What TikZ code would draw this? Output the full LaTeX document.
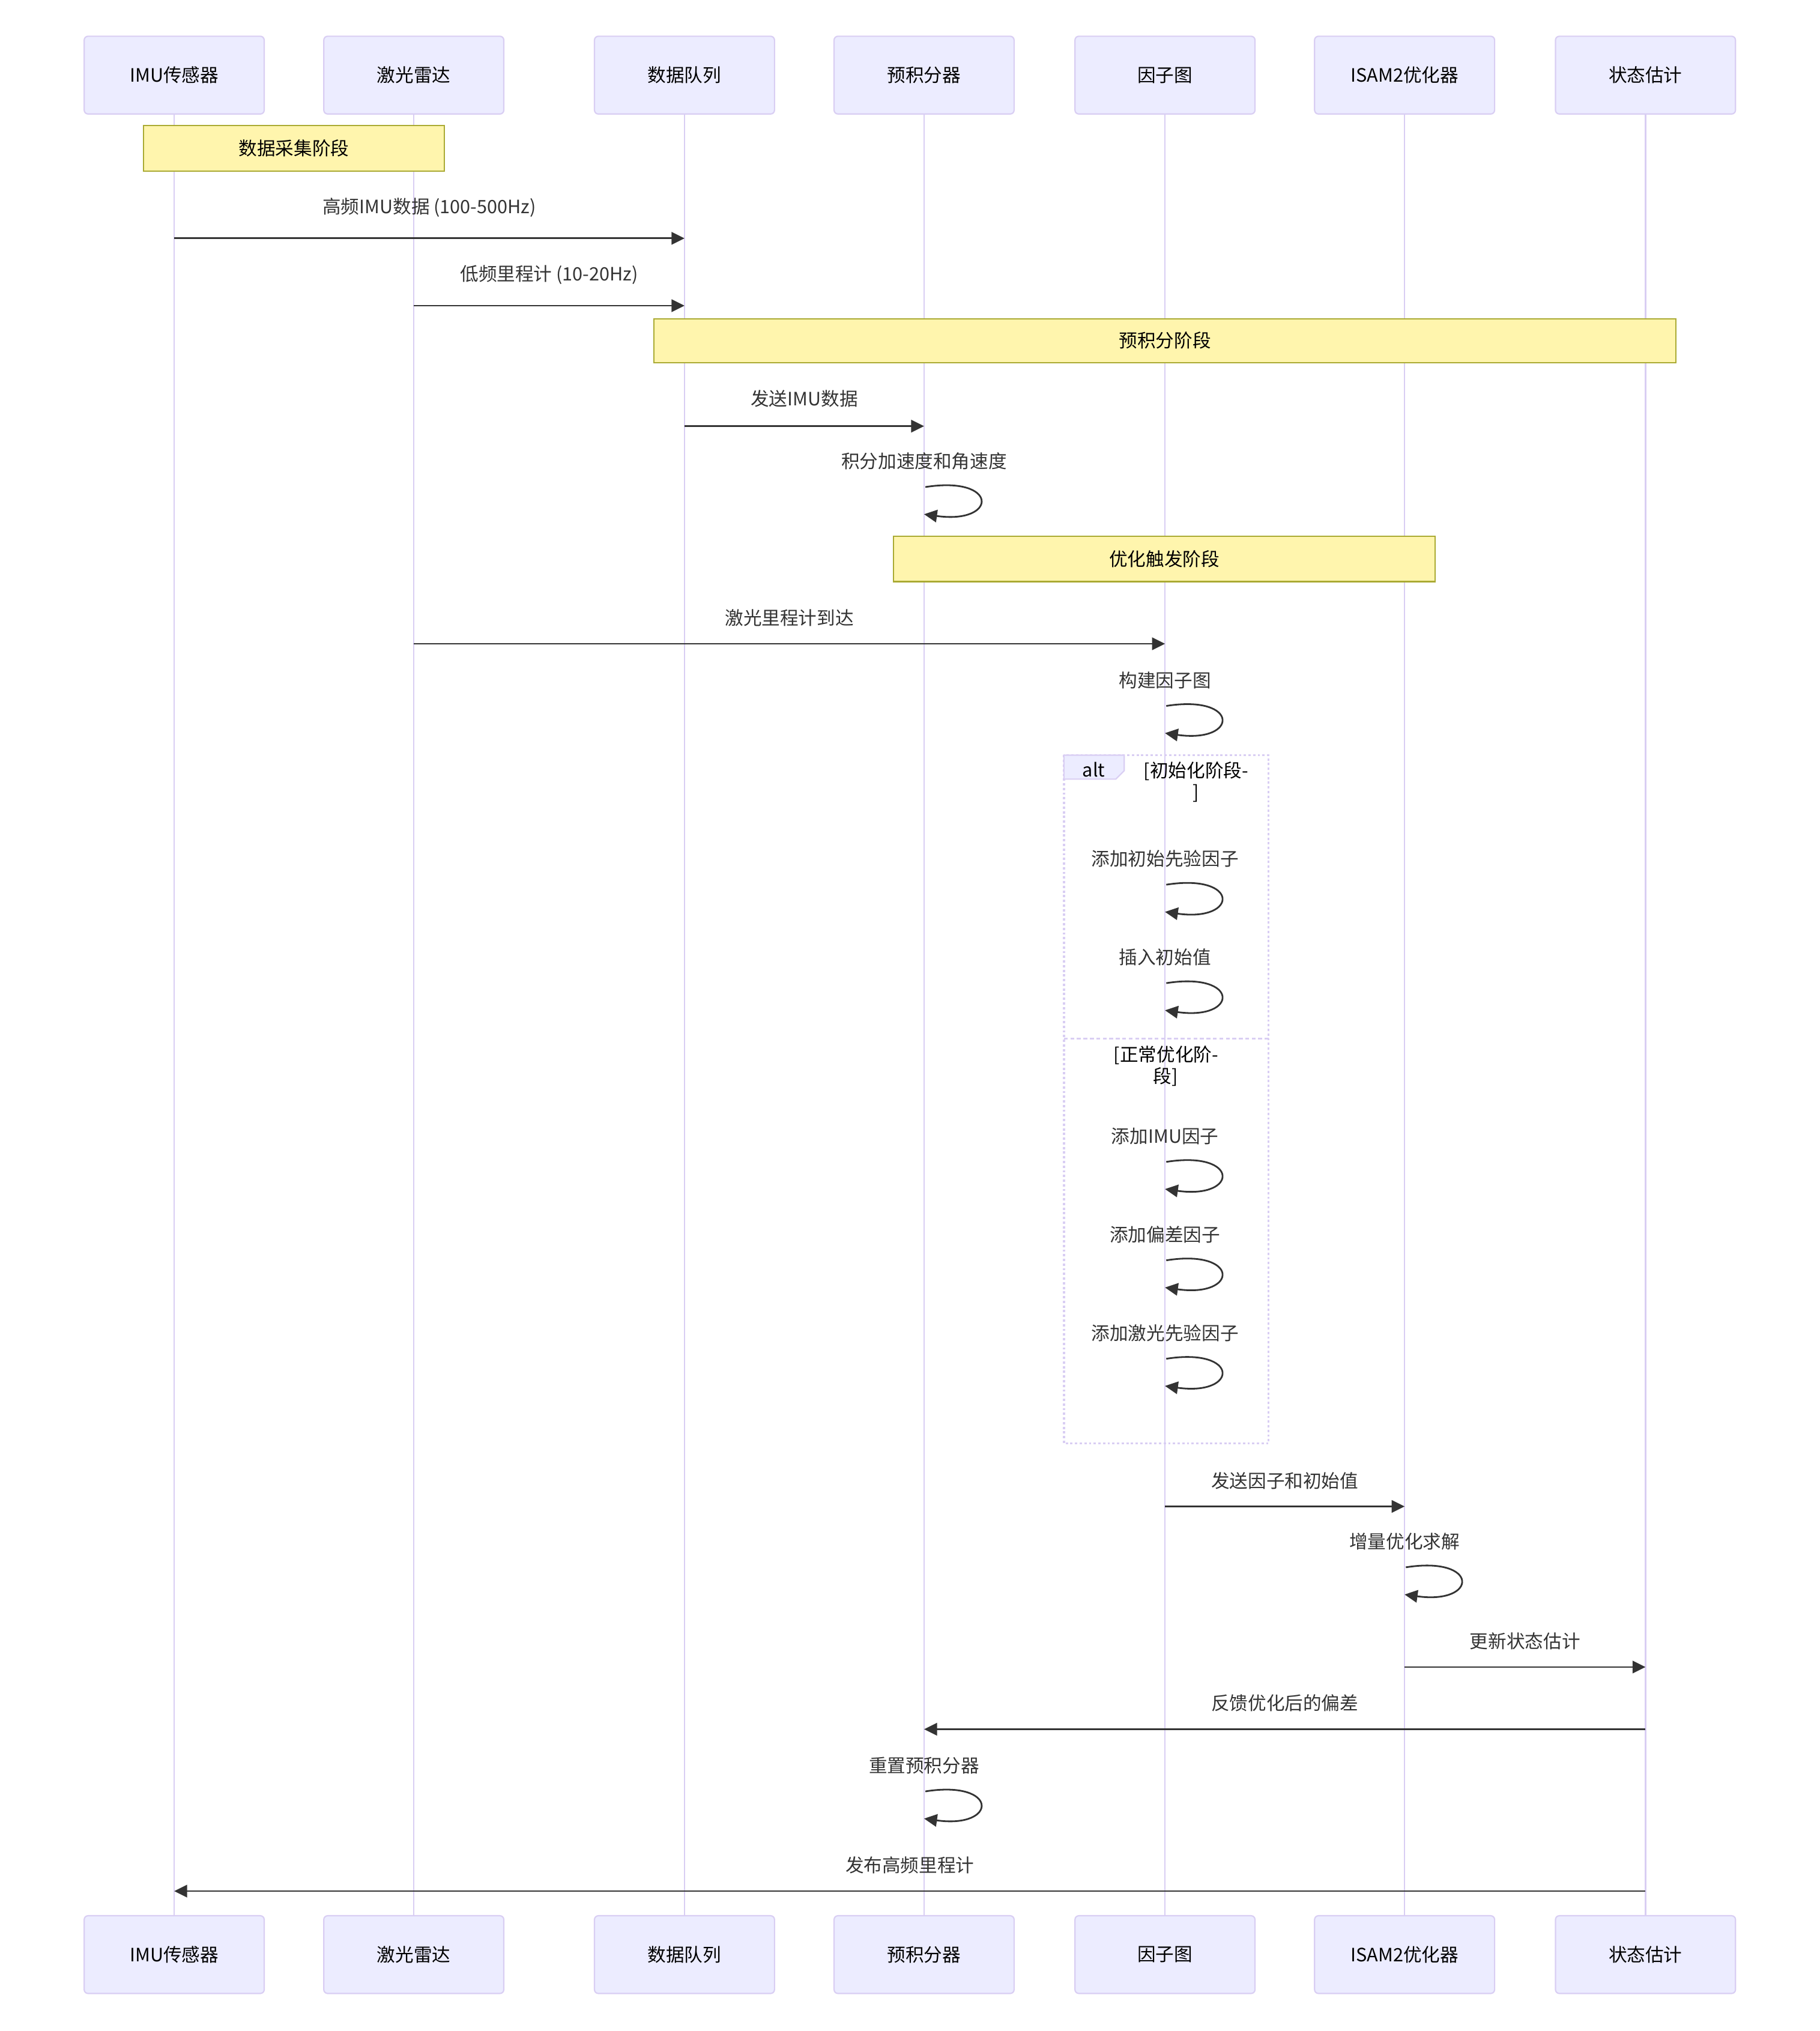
\documentclass[tikz,border=0pt]{standalone}
\usepackage{fontspec}
\setmainfont{Noto Sans CJK SC}
\usetikzlibrary{arrows.meta}
\definecolor{actfill}{HTML}{ECECFF}
\definecolor{actline}{HTML}{D9CEF3}
\definecolor{notefill}{HTML}{FFF5AD}
\definecolor{noteline}{HTML}{AAAA33}
\definecolor{msgc}{HTML}{333333}
\tikzset{
  txt/.style={font=\fontsize{14.2}{17}\selectfont},
  actor/.style={draw=actline, fill=actfill, line width=1pt, rounded corners=3pt,
    minimum width=139pt, minimum height=60pt, inner sep=0pt, txt, text=black},
  life/.style={draw=actline, line width=1.2pt},
  notebox/.style={draw=noteline, fill=notefill, line width=1pt, inner sep=0pt, txt, text=black},
  msg/.style={draw=msgc, line width=1.3pt, -{Triangle[length=10pt,width=9.6pt]}},
  msgtext/.style={txt, text=msgc, inner sep=0pt},
  framebox/.style={draw=actline, line width=1.5pt, dash pattern=on 1.8pt off 1.8pt},
  sepline/.style={draw=actline, line width=1.5pt, dash pattern=on 3pt off 2pt},
  altlabel/.style={txt, text=black, inner sep=0pt, align=center}
}
\begin{document}
\begin{tikzpicture}[x=1pt,y=-1pt]
\useasboundingbox (0,0) rectangle (1405,1568);
\fill[white] (0,0) rectangle (1405,1568);

% actors top
\node[actor] (imuT) at (134.5,58) {IMU传感器};
\node[actor] (lidT) at (319.5,58) {激光雷达};
\node[actor] (queT) at (528.5,58) {数据队列};
\node[actor] (preT) at (713.5,58) {预积分器};
\node[actor] (fgT)  at (899.5,58) {因子图};
\node[actor] (isT)  at (1084.5,58) {ISAM2优化器};
\node[actor] (stT)  at (1270.5,58) {状态估计};
% actors bottom
\node[actor] (imuB) at (134.5,1509) {IMU传感器};
\node[actor] (lidB) at (319.5,1509) {激光雷达};
\node[actor] (queB) at (528.5,1509) {数据队列};
\node[actor] (preB) at (713.5,1509) {预积分器};
\node[actor] (fgB)  at (899.5,1509) {因子图};
\node[actor] (isB)  at (1084.5,1509) {ISAM2优化器};
\node[actor] (stB)  at (1270.5,1509) {状态估计};

% lifelines
\foreach \a in {imu,lid,que,pre,fg,is,st}{
  \draw[life] (\a T.south) -- (\a B.north);
}

% notes
\node[notebox, minimum width=232pt, minimum height=35pt] (n1) at (227,114.5) {数据采集阶段};
\node[notebox, minimum width=789pt, minimum height=34pt] (n2) at (899.5,263) {预积分阶段};
\node[notebox, minimum width=418pt, minimum height=35pt] (n3) at (899,431.5) {优化触发阶段};

% alt frame
\draw[framebox] (821.5,583) rectangle (979.5,1114.5);
\draw[sepline] (821.5,802) -- (979.5,802);
\filldraw[draw=actline, fill=actfill, line width=1pt] (821.5,583) -- (868,583) -- (868,595) -- (861.5,601.5) -- (821.5,601.5) -- cycle;
\node[altlabel] (altl) at (844.5,594) {alt};
\node[altlabel] (c1a) at (923.5,595.5) {[初始化阶段-};
\node[altlabel] (c1b) at (923.5,612.5) {]};
\node[altlabel] (c2a) at (900.3,814.5) {[正常优化阶-};
\node[altlabel] (c2b) at (900,831.5) {段]};

% messages
\node[msgtext] at (331.5,160) {高频IMU数据 (100-500Hz)};
\draw[msg] (imuT.south |- 0,184) -- (queT.south |- 0,184);
\node[msgtext] at (424,212) {低频里程计 (10-20Hz)};
\draw[msg] (lidT.south |- 0,236) -- (queT.south |- 0,236);
\node[msgtext] at (621,308) {发送IMU数据};
\draw[msg] (queT.south |- 0,329) -- (preT.south |- 0,329);
\node[msgtext] at (609.5,477) {激光里程计到达};
\draw[msg] (lidT.south |- 0,497) -- (fgT.south |- 0,497);
\node[msgtext] at (992,1143) {发送因子和初始值};
\draw[msg] (fgT.south |- 0,1163) -- (isT.south |- 0,1163);
\node[msgtext] at (1177.5,1267) {更新状态估计};
\draw[msg] (isT.south |- 0,1287) -- (stT.south |- 0,1287);
\node[msgtext] at (992,1315) {反馈优化后的偏差};
\draw[msg] (stT.south |- 0,1335) -- (preT.south |- 0,1335);
\node[msgtext] at (702.5,1440) {发布高频里程计};
\draw[msg] (stT.south |- 0,1460) -- (imuT.south |- 0,1460);

% self messages
\foreach \a/\yy/\t in {preT/376/积分加速度和角速度, fgT/545/构建因子图, fgT/683/添加初始先验因子,
  fgT/759/插入初始值, fgT/897/添加IMU因子, fgT/973/添加偏差因子, fgT/1049/添加激光先验因子,
  isT/1210/增量优化求解, preT/1383/重置预积分器}{
  \node[msgtext] at (\a.south |- 0,\yy-20) {\t};
  \draw[msg] ([xshift=1pt]\a.south |- 0,\yy) .. controls +(57,-9) and +(57,8) .. (\a.south |- 0,\yy+21);
}
\end{tikzpicture}
\end{document}
